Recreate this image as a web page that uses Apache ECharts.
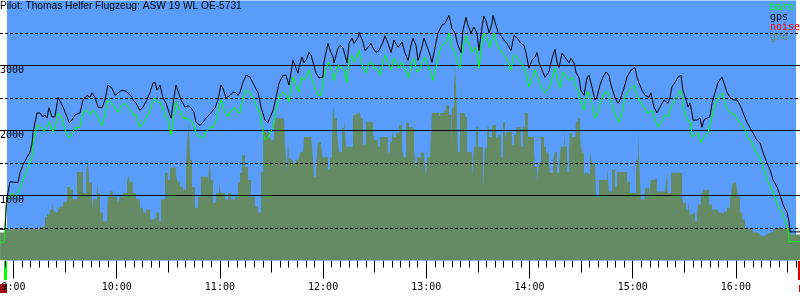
<!DOCTYPE html>
<html>
<head>
<meta charset="utf-8">
<script src="https://cdn.jsdelivr.net/npm/echarts@6/dist/echarts.min.js"></script>
<style>
  html, body { margin: 0; padding: 0; background: #fff; }
  #chart { width: 800px; height: 300px; }
</style>
</head>
<body>
<div id="chart"></div>
<script>
// time = minutes since midnight, altitude in metres
const gps = [[532.2,480],[535.1,480],[535.5,670],[536.0,940],[538.0,1210],[539.1,1210],[542.6,1200],[543.8,1350],[545.5,1470],[547.9,1590],[549.6,1660],[550.8,1810],[551.3,1960],[552.5,2120],[553.7,2270],[554.2,2240],[555.4,2270],[557.1,2210],[558.3,2240],[559.5,2190],[560.6,2350],[562.4,2210],[564.1,2210],[565.9,2510],[567.0,2500],[568.8,2360],[571.1,2210],[572.3,2120],[574.0,2160],[575.8,2240],[578.7,2270],[580.4,2470],[582.7,2540],[584.5,2510],[585.6,2580],[587.4,2510],[589.1,2360],[591.5,2350],[593.2,2470],[594.9,2700],[597.3,2650],[599.0,2540],[600.8,2580],[603.1,2620],[604.8,2610],[606.6,2580],[608.9,2510],[609.5,2470],[611.2,2420],[613.5,2310],[615.3,2360],[617.0,2440],[619.4,2590],[621.1,2730],[622.3,2740],[623.4,2620],[625.2,2700],[626.9,2500],[628.7,2420],[630.4,2280],[631.6,2190],[633.3,2510],[634.5,2700],[635.6,2670],[637.4,2470],[639.7,2360],[641.5,2380],[643.2,2350],[644.9,2280],[646.1,2130],[648.4,2080],[650.2,2130],[651.9,2190],[654.8,2270],[657.2,2350],[658.9,2470],[660.6,2700],[661.8,2650],[663.5,2500],[665.9,2540],[667.6,2590],[669.4,2580],[670.5,2540],[671.7,2590],[673.4,2740],[675.2,2850],[677.5,2820],[678.1,2810],[680.4,2670],[682.2,2580],[683.9,2360],[686.2,2160],[688.0,2120],[688.5,2160],[690.9,2310],[692.6,2510],[694.4,2730],[696.7,2850],[698.4,2850],[700.2,2700],[701.3,2880],[702.5,3080],[704.2,2960],[705.4,2880],[706.0,2970],[707.7,3130],[708.9,3040],[710.6,3110],[711.8,3200],[713.0,3160],[714.1,3130],[715.9,2880],[717.6,2810],[719.9,2820],[720.5,3050],[722.8,3340],[724.6,3200],[725.8,3130],[726.3,3040],[728.7,3270],[729.8,3310],[731.6,3270],[732.7,3160],[733.9,3040],[735.1,3340],[736.8,3420],[738.0,3340],[740.3,3430],[740.9,3510],[743.2,3360],[744.4,3230],[746.1,3280],[747.9,3340],[749.0,3270],[750.8,3200],[752.5,3230],[754.8,3360],[756.0,3460],[757.7,3340],[759.5,3200],[761.2,3390],[763.6,3280],[765.9,3360],[767.6,3190],[769.4,3080],[771.1,3310],[772.3,3420],[774.0,3310],[775.2,3080],[776.9,3230],[778.7,3420],[779.8,3390],[782.2,3160],[783.3,3050],[785.6,3340],[786.8,3500],[789.1,3620],[790.9,3650],[793.2,3770],[794.9,3570],[796.7,3500],[798.4,3310],[800.2,3200],[801.3,3540],[803.1,3740],[804.2,3620],[806.0,3500],[807.7,3590],[809.5,3500],[810.6,3230],[812.4,3590],[813.5,3760],[814.7,3690],[816.5,3500],[818.2,3650],[818.8,3770],[820.5,3620],[821.7,3510],[823.4,3460],[825.2,3390],[826.9,3340],[829.2,3230],[831.0,3460],[832.7,3430],[835.0,3340],[836.8,3310],[838.0,3190],[839.7,2960],[841.5,3080],[843.2,3130],[844.4,3200],[845.5,3050],[847.3,2930],[849.0,2820],[851.3,2900],[853.1,3110],[854.8,3250],[856.0,3050],[857.2,2970],[858.9,3190],[860.6,3130],[863.0,3040],[864.1,3110],[865.9,3040],[867.0,2900],[868.8,2810],[869.9,2620],[871.7,2540],[873.4,2810],[874.6,2850],[876.3,2670],[878.1,2470],[879.2,2510],[881.0,2700],[882.7,2820],[884.5,2900],[886.2,2850],[887.4,2700],[889.7,2510],[891.5,2420],[892.6,2470],[894.9,2650],[896.7,2820],[899.0,2930],[901.3,2970],[902.5,2820],[903.7,2730],[905.4,2620],[907.2,2540],[909.5,2510],[910.6,2580],[912.4,2360],[914.1,2270],[915.9,2360],[918.2,2470],[920.5,2420],[921.7,2510],[922.8,2670],[924.6,2740],[926.3,2820],[928.1,2850],[929.2,2620],[931.0,2470],[932.2,2360],[933.3,2420],[934.5,2270],[935.1,2160],[937.4,2160],[939.1,2190],[940.3,2050],[941.4,2160],[943.2,2190],[944.9,2210],[946.1,2420],[947.9,2590],[949.6,2740],[951.9,2820],[953.1,2730],[954.8,2590],[956.6,2510],[958.3,2470],[960.6,2470],[962.4,2390],[964.1,2280],[966.4,2130],[968.2,2040],[970.0,1960],[972.3,1850],[974.0,1810],[975.8,1660],[978.1,1500],[979.8,1400],[981.6,1240],[983.9,1130],[985.6,1010],[987.4,860],[989.7,740],[990.9,600],[991.5,440],[997.3,440]];

const baro = [[532.2,280],[534.5,280],[535.6,830],[536.8,940],[539.1,1040],[540.9,980],[542.6,1040],[544.9,1200],[547.9,1400],[549.6,1500],[550.8,1590],[551.3,1810],[553.1,2010],[554.2,2080],[556.6,2040],[557.7,1980],[559.5,2050],[560.6,2130],[563.0,1980],[564.1,2040],[565.9,2270],[568.2,2190],[569.9,2010],[572.3,1890],[574.0,1960],[575.8,2040],[578.7,2050],[580.4,2280],[582.7,2310],[584.5,2240],[586.2,2310],[588.5,2240],[590.3,2130],[591.5,2080],[593.2,2240],[594.9,2470],[597.3,2420],[599.0,2350],[600.8,2280],[603.1,2390],[604.8,2420],[606.6,2360],[608.9,2280],[609.5,2240],[611.2,2240],[613.5,2050],[615.3,2120],[617.0,2190],[619.4,2310],[621.1,2470],[622.3,2500],[624.0,2440],[625.8,2420],[628.1,2240],[629.8,2160],[631.6,1930],[633.3,2240],[634.5,2440],[636.8,2310],[638.5,2190],[640.3,2190],[642.6,2160],[644.4,2120],[646.1,1960],[648.4,1890],[650.2,1900],[651.9,1980],[654.2,2050],[656.0,2040],[657.7,2160],[660.1,2420],[660.6,2470],[663.0,2280],[664.7,2210],[666.5,2310],[668.8,2350],[670.5,2280],[671.7,2270],[673.4,2500],[675.2,2620],[677.5,2580],[679.2,2510],[681.0,2390],[683.3,2270],[685.1,1980],[686.2,1850],[688.0,1890],[690.9,2050],[692.6,2310],[694.4,2510],[696.7,2590],[698.4,2540],[700.2,2440],[701.3,2650],[702.5,2820],[704.2,2700],[706.0,2590],[707.2,2820],[708.9,2770],[710.6,2850],[711.8,2930],[713.0,2820],[714.7,2700],[717.0,2540],[718.8,2540],[719.9,2730],[721.7,2970],[723.4,3050],[724.6,2970],[726.3,2770],[728.7,3000],[730.4,2970],[732.2,2930],[733.9,2740],[735.1,3110],[736.8,3160],[738.0,3050],[739.7,3130],[740.9,3230],[742.0,3080],[743.8,2930],[744.9,2880],[746.7,3040],[748.4,3050],[749.6,2960],[751.9,2930],[753.1,2850],[754.8,3040],[756.0,3160],[757.7,3050],[759.5,2930],[761.2,3110],[763.6,3000],[764.1,2960],[765.9,3050],[768.2,2900],[769.9,2810],[771.7,3080],[772.9,3110],[774.6,2900],[776.3,2930],[777.5,3050],[779.2,3130],[781.0,3000],[782.7,2880],[783.9,2770],[785.6,2970],[787.4,3200],[789.1,3310],[791.5,3360],[793.2,3500],[794.9,3280],[796.7,3190],[797.9,3050],[799.6,2960],[801.3,3270],[803.1,3460],[804.8,3340],[806.6,3200],[808.3,3280],[809.5,3230],[810.6,2960],[812.4,3340],[813.5,3500],[815.3,3420],[817.0,3270],[818.2,3420],[819.4,3500],[821.1,3310],[823.4,3230],[825.2,3160],[826.9,3110],[829.2,2930],[831.0,3160],[832.7,3130],[835.0,3050],[836.8,2970],[838.0,2880],[839.7,2670],[841.5,2810],[843.2,2930],[844.9,2820],[846.7,2670],[849.0,2580],[851.3,2650],[853.1,2810],[854.8,2960],[856.0,2810],[857.7,2650],[859.5,2900],[861.2,2850],[863.0,2770],[865.3,2820],[866.5,2700],[868.8,2580],[869.9,2420],[871.7,2310],[873.4,2580],[874.6,2590],[876.3,2420],[878.1,2190],[879.8,2280],[881.6,2470],[883.9,2590],[885.6,2590],[887.4,2470],[889.7,2240],[892.0,2130],[893.8,2280],[895.5,2510],[897.9,2620],[900.8,2700],[902.5,2540],[904.3,2440],[906.6,2360],[908.3,2270],[909.5,2280],[911.2,2310],[913.0,2160],[914.7,2050],[916.5,2130],[918.8,2240],[920.5,2210],[921.7,2310],[923.4,2440],[925.8,2510],[927.5,2620],[928.7,2540],[929.8,2310],[931.6,2160],[932.7,2190],[933.9,2130],[934.5,1900],[936.2,1930],[938.0,1960],[939.7,1820],[941.4,1900],[943.8,1960],[944.9,1980],[946.1,2210],[947.9,2390],[949.6,2510],[951.9,2580],[953.1,2470],[955.4,2310],[957.2,2270],[959.5,2240],[961.2,2160],[963.6,2080],[965.3,2010],[967.0,1890],[969.4,1810],[971.1,1700],[972.9,1620],[975.2,1500],[976.9,1350],[978.7,1210],[981.0,1090],[982.7,970],[984.5,830],[986.8,740],[988.6,600],[990.3,480],[990.9,290],[997.3,290]];

const gnd = [[532.2,430],[535.1,480],[555.4,520],[558.3,670],[559.5,710],[561.2,780],[562.4,890],[563.0,780],[564.1,740],[565.9,780],[567.0,830],[568.8,900],[571.1,1130],[572.9,1090],[574.6,940],[576.9,1360],[580.4,1040],[582.2,1350],[583.3,1560],[583.9,1200],[585.6,780],[586.2,940],[588.5,1200],[589.1,1040],[590.3,740],[592.0,600],[594.4,740],[594.9,980],[596.1,1060],[597.9,980],[600.2,940],[600.8,890],[601.9,980],[603.7,1040],[606.0,1210],[606.6,1320],[607.7,1210],[609.5,1040],[611.2,940],[613.5,810],[615.3,740],[617.0,780],[619.4,630],[621.1,660],[622.9,740],[624.6,600],[625.8,940],[628.1,1350],[629.8,1240],[631.0,1430],[632.7,1430],[634.5,1290],[635.6,1210],[636.8,1130],[638.5,1090],[640.3,1500],[640.9,1850],[642.0,2120],[642.6,1550],[643.8,1130],[645.5,810],[647.3,980],[649.0,1290],[651.3,1290],[653.1,1130],[654.2,1590],[654.8,1240],[656.0,890],[657.7,1040],[659.5,1200],[660.6,1040],[663.0,940],[664.7,1040],[666.5,940],[668.8,980],[670.5,1200],[671.7,1350],[672.9,1620],[674.6,1440],[676.3,1240],[678.1,980],[680.4,830],[682.2,740],[683.9,1360],[685.1,1980],[686.8,1980],[688.5,1890],[689.7,1850],[691.5,2080],[692.6,2190],[697.3,2160],[697.9,1750],[699.0,1360],[699.6,1850],[700.2,1590],[701.3,1550],[702.5,1500],[704.2,1550],[706.0,1590],[706.6,1670],[708.3,1590],[708.9,1900],[713.0,1900],[714.1,1590],[714.7,1290],[715.9,1440],[717.0,1820],[718.8,1750],[719.9,1590],[722.8,1400],[724.0,1590],[725.2,1850],[725.8,2360],[726.9,2190],[728.1,1960],[729.2,1670],[731.0,2040],[732.2,2210],[733.3,1750],[737.4,2240],[739.1,2270],[740.9,2310],[742.0,2190],[743.2,1780],[744.9,2130],[749.0,1980],[749.6,1850],[751.9,1750],[753.1,1900],[757.7,1660],[758.9,1820],[760.1,1980],[761.2,1900],[762.4,1960],[764.1,2080],[765.9,1700],[767.0,1590],[768.2,2120],[769.9,2050],[771.7,2040],[772.9,1700],[774.0,1400],[774.6,1590],[776.9,1660],[778.7,1620],[779.8,1290],[780.4,1590],[782.2,1660],[783.3,2270],[787.4,2210],[788.5,2270],[790.3,2310],[791.5,2390],[793.2,2240],[794.4,1750],[794.9,2350],[796.1,2700],[796.7,3000],[797.3,2670],[798.4,1670],[799.6,2270],[802.5,2210],[803.7,1670],[805.4,1660],[806.6,1240],[807.7,1750],[808.9,2050],[810.1,1750],[811.8,1730],[813.0,1090],[814.1,1730],[815.3,2050],[816.5,1900],[818.2,2080],[820.5,1890],[821.7,1930],[823.4,1590],[824.6,2130],[825.8,1890],[826.9,1980],[829.8,1780],[831.0,1930],[832.2,2050],[835.0,1750],[836.2,2050],[837.4,2270],[839.1,1900],[842.6,1670],[843.2,1440],[844.4,1210],[845.5,1500],[846.7,1900],[848.4,1750],[849.6,1660],[851.3,1500],[851.9,1350],[853.7,1550],[854.8,1670],[856.0,1350],[857.2,1500],[858.3,1750],[860.1,1980],[860.6,1750],[861.8,1360],[863.0,1700],[863.5,1960],[864.7,1900],[866.5,1850],[867.0,2130],[868.2,2190],[869.4,1850],[870.5,1660],[871.7,1290],[872.3,1350],[874.0,1320],[875.2,1660],[876.3,1500],[878.1,1440],[878.7,980],[880.4,1240],[885.1,1400],[886.2,1060],[888.0,1400],[889.7,1130],[890.9,1360],[896.7,1210],[898.4,1040],[901.9,1550],[903.1,1980],[903.7,1550],[904.8,940],[906.6,890],[907.2,1120],[909.5,980],[910.6,1240],[912.4,1270],[914.1,1060],[918.8,1090],[919.9,1350],[920.5,1040],[922.3,1350],[928.7,980],[929.2,890],[931.0,780],[932.2,890],[933.3,710],[934.5,740],[936.2,600],[937.4,670],[938.0,860],[939.7,1040],[940.9,1090],[944.4,860],[946.1,780],[949.6,740],[951.9,710],[953.1,750],[954.8,810],[956.6,940],[957.7,1130],[958.3,1200],[960.1,1170],[961.2,980],[962.4,740],[963.6,630],[965.3,480],[970.0,430],[972.3,400],[974.0,370],[975.8,400],[978.1,430],[979.8,440],[981.6,480],[983.9,510],[985.6,480],[987.4,510],[989.7,480],[991.5,400],[997.3,400]];

const noise = [];

const hourTicks = [540, 600, 660, 720, 780, 840, 900, 960];
const hourLabels = ['9:00', '10:00', '11:00', '12:00', '13:00', '14:00', '15:00', '16:00'];
const halfTicks = [570, 630, 690, 750, 810, 870, 930, 990];
const fiveTicks = [];
for (let m = 535; m <= 995; m += 5) fiveTicks.push(m);

const altLabels = [1000, 2000, 3000];
const solidLevels = [1000, 2000, 3000];
const dashedLevels = [500, 1500, 2500, 3500];

const tStart = 532.15, tEnd = 997.27;   // visible time window
const logStart = 536.2, logEnd = 995.0; // recorded part (blue)

const BLUE = '#599cfa';
const GND = '#648b64';
const MONO = 'DejaVu Sans Mono';

const chart = echarts.init(document.getElementById('chart'));

function tickAxis(values, len) {
  return {
    type: 'value', min: tStart, max: tEnd, position: 'bottom',
    axisLine: { show: false },
    splitLine: { show: false },
    axisTick: { customValues: values, length: len, lineStyle: { color: '#000', width: 1 } },
    axisLabel: { show: false }
  };
}

const hourAxis = tickAxis(hourTicks, 18);
hourAxis.axisLabel = {
  show: true,
  customValues: hourTicks,
  formatter: v => hourLabels[hourTicks.indexOf(v)] || '',
  margin: 22,
  color: '#000',
  fontFamily: MONO,
  fontSize: 10
};

const gridLines = solidLevels.map(v => ({ yAxis: v, lineStyle: { type: 'solid' } }))
  .concat(dashedLevels.map(v => ({ yAxis: v, lineStyle: { type: [3, 2] } })));

chart.setOption({
  animation: false,
  backgroundColor: '#fff',
  title: {
    text: 'Pilot: Thomas Helfer Flugzeug: ASW 19 WL OE-5731',
    left: 0, top: 1, padding: 0,
    textStyle: { fontSize: 10.2, fontWeight: 'normal', fontFamily: 'Liberation Sans', color: '#000' }
  },
  legend: {
    orient: 'vertical', left: 765, top: 2, padding: 0,
    itemGap: 0, itemWidth: 0, itemHeight: 0, icon: 'rect',
    selectedMode: false,
    textStyle: { fontFamily: MONO, fontSize: 10, lineHeight: 10 },
    data: [
      { name: 'baro', textStyle: { color: '#00ff00' } },
      { name: 'gps', textStyle: { color: '#000000' } },
      { name: 'noise', textStyle: { color: '#ff0000' } },
      { name: 'gnd', textStyle: { color: GND } }
    ]
  },
  grid: { left: 0, right: 0, top: 0.5, height: 260, outerBoundsMode: 'none' },
  xAxis: [hourAxis, tickAxis(halfTicks, 12), tickAxis(fiveTicks, 7)],
  yAxis: {
    type: 'value', min: 0, max: 4000, z: 10,
    axisLine: { show: false }, axisTick: { show: false }, splitLine: { show: false },
    axisLabel: {
      customValues: altLabels, inside: true, margin: 0, verticalAlign: 'top',
      formatter: v => String(v),
      color: '#000', fontFamily: MONO, fontSize: 10
    }
  },
  series: [
    {
      name: 'gnd', type: 'line', step: 'end', data: gnd, symbol: 'none', z: 2,
      lineStyle: { width: 0 }, itemStyle: { color: GND },
      areaStyle: { color: GND, opacity: 1 },
      markArea: {
        silent: true,
        itemStyle: { color: BLUE },
        data: [[{ xAxis: logStart }, { xAxis: logEnd }]]
      },
      markLine: {
        silent: true, symbol: ['none', 'none'],
        label: { show: false },
        lineStyle: { color: '#000', width: 1 },
        emphasis: { disabled: true },
        data: gridLines
      }
    },
    { name: 'noise', type: 'line', data: noise, symbol: 'none', itemStyle: { color: '#ff0000' } },
    {
      name: 'baro', type: 'line', data: baro, symbol: 'none', z: 6,
      lineStyle: { color: '#00ff00', width: 1 }, itemStyle: { color: '#00ff00' }
    },
    {
      name: 'gps', type: 'line', data: gps, symbol: 'none', z: 7,
      lineStyle: { color: '#000', width: 1 }, itemStyle: { color: '#000' }
    }
  ],
  // takeoff / landing markers under the time axis
  graphic: [
    { type: 'rect', shape: { x: 4, y: 261, width: 3, height: 19 }, style: { fill: '#00ff00' } },
    { type: 'rect', shape: { x: 0, y: 284, width: 7, height: 9 }, style: { fill: '#a01010' } },
    { type: 'rect', shape: { x: 798, y: 261, width: 2, height: 19 }, style: { fill: '#dd0000' } },
    { type: 'rect', shape: { x: 799, y: 285, width: 1, height: 7 }, style: { fill: '#dd0000' } }
  ]
});
</script>
</body>
</html>
